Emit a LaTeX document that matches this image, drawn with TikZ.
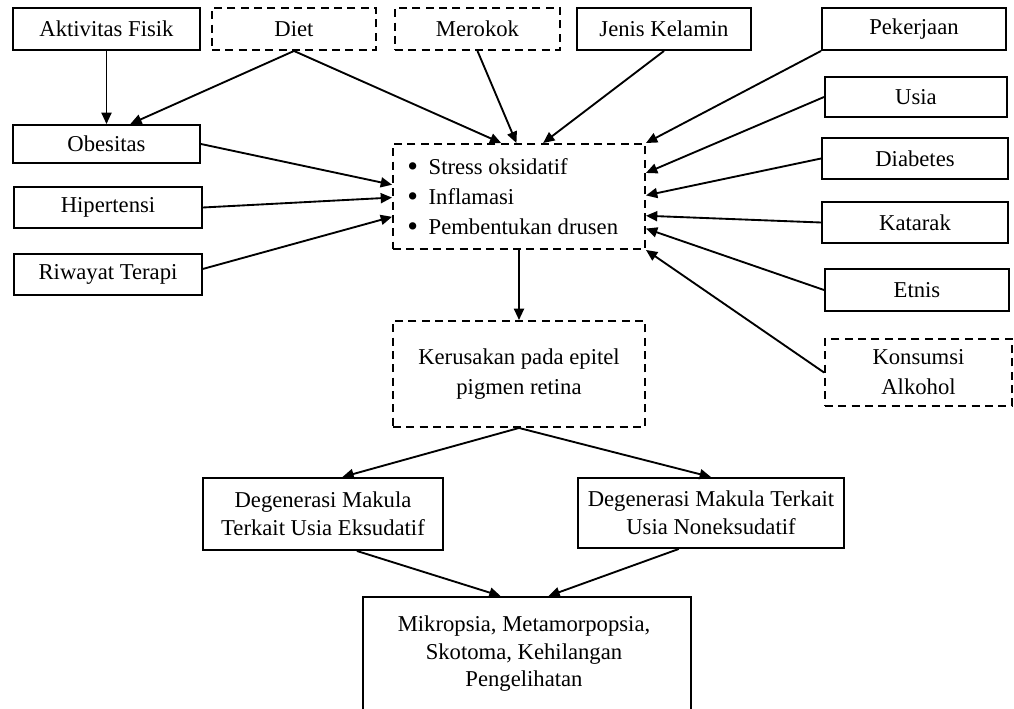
\documentclass[tikz,border=0pt]{standalone}
\usepackage{fontspec}
\setmainfont{Liberation Serif}
\usetikzlibrary{arrows.meta,calc}
\newcommand\fsz{\fontsize{17}{21}\selectfont}
\newcommand\bul{\raisebox{-1.6pt}{\scalebox{1.35}{\textbullet}}\hspace{8pt}}
\tikzset{
  box/.style={draw, line width=1.45pt, inner sep=0pt, align=center, font=\fsz},
  dbox/.style={box, dash pattern=on 6pt off 4pt},
  arr/.style={-{Triangle[length=8.5pt,width=7.5pt]}, line width=1.4pt},
}
\begin{document}
\begin{tikzpicture}[x=0.75pt,y=-0.75pt]
\useasboundingbox (0,0) rectangle (1014,709);
\clip (0,0) rectangle (1014,709);
% top row
\node[box, minimum width=140.25pt, minimum height=31.5pt] (akt) at (106.5,29) {Aktivitas Fisik};
\node[dbox, minimum width=123pt, minimum height=31.5pt] (diet) at (294,29) {Diet};
\node[dbox, minimum width=123.75pt, minimum height=31.5pt] (mer) at (477.5,29) {Merokok};
\node[box, minimum width=130.5pt, minimum height=31.5pt] (jen) at (664,29) {Jenis Kelamin};
\node[box, minimum width=138pt, minimum height=31.5pt] (pek) at (914,29) {Pekerjaan};
% right column
\node[box, minimum width=136.5pt, minimum height=30pt] (usia) at (916,97) {Usia};
\node[box, minimum width=139.5pt, minimum height=30.75pt] (diab) at (915,158.5) {Diabetes};
\node[box, minimum width=139.5pt, minimum height=30.75pt] (kat) at (915,222.5) {Katarak};
\node[box, minimum width=138pt, minimum height=31.5pt] (etn) at (917,290) {Etnis};
\node[dbox, minimum width=140.25pt, minimum height=50.25pt, font=\fontsize{17}{22.5}\selectfont] (kons) at (918.5,372.5) {Konsumsi\\Alkohol};
% left column
\node[box, minimum width=140.25pt, minimum height=28.5pt] (obes) at (106.5,144) {Obesitas};
\node[box, minimum width=141pt, minimum height=30.75pt] (hip) at (108,207.5) {Hipertensi};
\node[box, minimum width=141pt, minimum height=30.75pt] (riw) at (108,274.5) {Riwayat Terapi};
% centre
\node[dbox, minimum width=189pt, minimum height=78.75pt] (cen) at (519,196.5) {};
\node[anchor=west, align=left, inner sep=0pt, font=\fontsize{17}{22.5}\selectfont] (centxt) at (407,197.5)
  {\bul Stress oksidatif\\\bul Inflamasi\\\bul Pembentukan drusen};
\node[dbox, minimum width=189pt, minimum height=79.5pt, font=\fontsize{17}{22.5}\selectfont] (ker) at (519,374) {Kerusakan pada epitel\\pigmen retina};
% lower
\node[box, minimum width=180pt, minimum height=54pt, font=\fontsize{17}{21}\selectfont] (eks) at (323,514) {Degenerasi Makula\\Terkait Usia Eksudatif};
\node[box, minimum width=200pt, minimum height=52.5pt, font=\fontsize{17}{21}\selectfont] (non) at (711,513) {Degenerasi Makula Terkait\\Usia Noneksudatif};
\node[box, minimum width=246pt, minimum height=122.25pt] (bot) at (527,678.5) {};
\node[font=\fontsize{17}{20.6}\selectfont, align=center, inner sep=0pt] (bottxt) at (524,654) {Mikropsia, Metamorpopsia,\\Skotoma, Kehilangan\\Pengelihatan};
% arrows
\draw[arr] (akt.south) -- (obes.north);
\draw[arr] (diet.south) -- ($(obes.north west)!0.626!(obes.north east)$);
\draw[arr] (diet.south) -- ($(cen.north west)!0.43!(cen.north east)$);
\draw[arr] (mer.south) -- ($(cen.north west)!0.49!(cen.north east)$);
\draw[arr] (jen.south) -- ($(cen.north west)!0.595!(cen.north east)$);
\draw[arr] (pek.south west) -- (cen.north east);
\draw[arr] (usia.west) -- ($(cen.north east)!0.28!(cen.south east)$);
\draw[arr] (diab.west) -- ($(cen.north east)!0.49!(cen.south east)$);
\draw[arr] (kat.west) -- ($(cen.north east)!0.68!(cen.south east)$);
\draw[arr] (etn.west) -- ($(cen.north east)!0.80!(cen.south east)$);
\draw[arr] (kons.west) -- (cen.south east);
\draw[arr] (obes.east) -- ($(cen.north west)!0.39!(cen.south west)$);
\draw[arr] (hip.east) -- ($(cen.north west)!0.51!(cen.south west)$);
\draw[arr] ($(riw.north east)!0.37!(riw.south east)$) -- ($(cen.north west)!0.69!(cen.south west)$);
\draw[arr] (cen.south) -- (ker.north);
\draw[arr] (ker.south) -- ($(eks.north west)!0.58!(eks.north east)$);
\draw[arr] (ker.south) -- (non.north);
\draw[arr] ($(eks.south west)!0.64!(eks.south east)$) -- ($(bot.north west)!0.42!(bot.north east)$);
\draw[arr] ($(non.south west)!0.38!(non.south east)$) -- ($(bot.north west)!0.565!(bot.north east)$);
\end{tikzpicture}
\end{document}
